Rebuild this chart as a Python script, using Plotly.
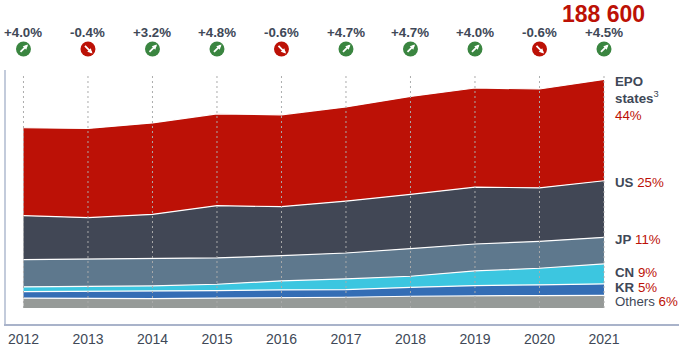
import plotly.graph_objects as go

years = [2012, 2013, 2014, 2015, 2016, 2017, 2018, 2019, 2020, 2021]
others = [8.2, 7.8, 7.8, 8.1, 8.4, 8.9, 9.7, 10.3, 10.3, 10.5]
kr = [5.4, 6.0, 6.0, 6.3, 6.6, 6.3, 7.4, 8.2, 8.8, 9.4]
cn = [3.9, 3.9, 4.4, 5.2, 7.4, 8.8, 9.1, 12.1, 13.7, 16.5]
jp = [22.5, 22.8, 22.5, 21.7, 20.8, 21.4, 22.8, 22.2, 22.2, 21.9]
us = [36.2, 34.0, 36.6, 43.1, 40.4, 42.8, 44.7, 46.9, 44.2, 46.7]
epo = [72.5, 73.7, 75.4, 75.8, 75.8, 77.7, 80.9, 81.8, 81.5, 83.6]
growth = ["+4.0%", "-0.4%", "+3.2%", "+4.8%", "-0.6%", "+4.7%", "+4.7%", "+4.0%", "-0.6%", "+4.5%"]
total_label = "188 600"

series = [
    ("Others", others, "#969A98"),
    ("KR", kr, "#346DB5"),
    ("CN", cn, "#3CC6E0"),
    ("JP", jp, "#5E788D"),
    ("US", us, "#414755"),
    ("EPO states", epo, "#BC1106"),
]
labels = [
    ("<b>EPO</b>", "#404857", 82),
    ("<b>states</b><sup>3</sup>", "#404857", 98),
    ("<span style='color:#BC1106'>44%</span>", "#BC1106", 116),
    ("<b>US</b> <span style='color:#BC1106'>25%</span>", "#404857", 183),
    ("<b>JP</b> <span style='color:#BC1106'>11%</span>", "#404857", 240),
    ("<b>CN</b> <span style='color:#BC1106'>9%</span>", "#404857", 273),
    ("<b>KR</b> <span style='color:#BC1106'>5%</span>", "#404857", 288),
    ("Others <span style='color:#BC1106'>6%</span>", "#404857", 302),
]

W, H = 679, 350
FRAME_TOP, TOP, BOT = 40, 70, 324.5
SPLIT = (BOT - TOP) / (BOT - FRAME_TOP)
FONT = "Liberation Sans, Arial, sans-serif"
TEXT = "#404857"
GREEN, RED = "#3A8540", "#BC1106"


def py(p):
    return (BOT - p) / (BOT - FRAME_TOP)


fig = go.Figure()
for name, vals, color in series:
    fig.add_trace(go.Scatter(x=years, y=vals, name=name, mode="lines", stackgroup="one",
                             fillcolor=color, line=dict(color="white", width=1.2, shape="linear"),
                             hoverinfo="skip"))

# dotted year guides
gx, gy = [], []
for y in years:
    gx += [y, y, None]
    gy += [0, 192.5, None]
fig.add_trace(go.Scatter(x=gx, y=gy, mode="lines", line=dict(color="#ABABAB", width=1, dash="2px,3px"),
                         hoverinfo="skip"))

# growth badges, on a thin strip axis above the plot
up = [g.startswith("+") for g in growth]
colors = [GREEN if u else RED for u in up]
row = [1] * len(years)
fig.add_trace(go.Scatter(x=years, y=row, yaxis="y2", mode="markers",
                         marker=dict(symbol="circle", size=15, color=colors, line=dict(width=0)),
                         cliponaxis=False, hoverinfo="skip"))

ann = []
for y, g, u in zip(years, growth, up):
    ann.append(dict(x=y, y=py(32), xref="x", yref="paper", text=g, showarrow=False, xanchor="center",
                    yanchor="middle", font=dict(family=FONT, size=13.3, color=TEXT, weight=600)))
    ann.append(dict(x=y, y=py(49), xref="x", yref="paper", text="", showarrow=True,
                    xshift=4.5, yshift=4.5 if u else -4.5, ax=-9, ay=9 if u else -9,
                    arrowcolor="white", arrowwidth=1.8, arrowhead=2, arrowsize=0.55, standoff=0, startstandoff=0))
ann.append(dict(x=2021, y=py(14), xref="x", yref="paper", text="<b>%s</b>" % total_label, showarrow=False,
                xanchor="center", yanchor="middle", font=dict(family=FONT, size=23, color=RED)))
for text, color, p in labels:
    ann.append(dict(x=2021, xshift=9, y=py(p), xref="x", yref="paper", text=text, showarrow=False,
                    xanchor="left", yanchor="middle", align="left",
                    font=dict(family=FONT, size=13.3, color=color)))

fig.update_layout(
    width=W, height=H, autosize=False, showlegend=False,
    margin=dict(l=6, r=0, t=FRAME_TOP, b=H - BOT, pad=0),
    paper_bgcolor="white", plot_bgcolor="white",
    annotations=ann,
    xaxis=dict(range=[2011.729, 2022.163], tickvals=years, ticktext=[str(y) for y in years],
               showgrid=False, zeroline=False, showline=True, linecolor="#A9B3CA", linewidth=1.5,
               ticks="", ticklabelstandoff=1, tickfont=dict(family=FONT, size=14, color=TEXT)),
    yaxis=dict(domain=[0, SPLIT], range=[-13.18, 196.4], showgrid=False, zeroline=False,
               showticklabels=False, showline=True, linecolor="#C3CBDB", linewidth=2, ticks=""),
    yaxis2=dict(domain=[SPLIT, 1], range=[0, 1.4286], visible=False),
)
fig.write_html("out.html", config={"displayModeBar": False},
               post_script="document.body.style.margin='0';document.documentElement.style.overflow='hidden';")
